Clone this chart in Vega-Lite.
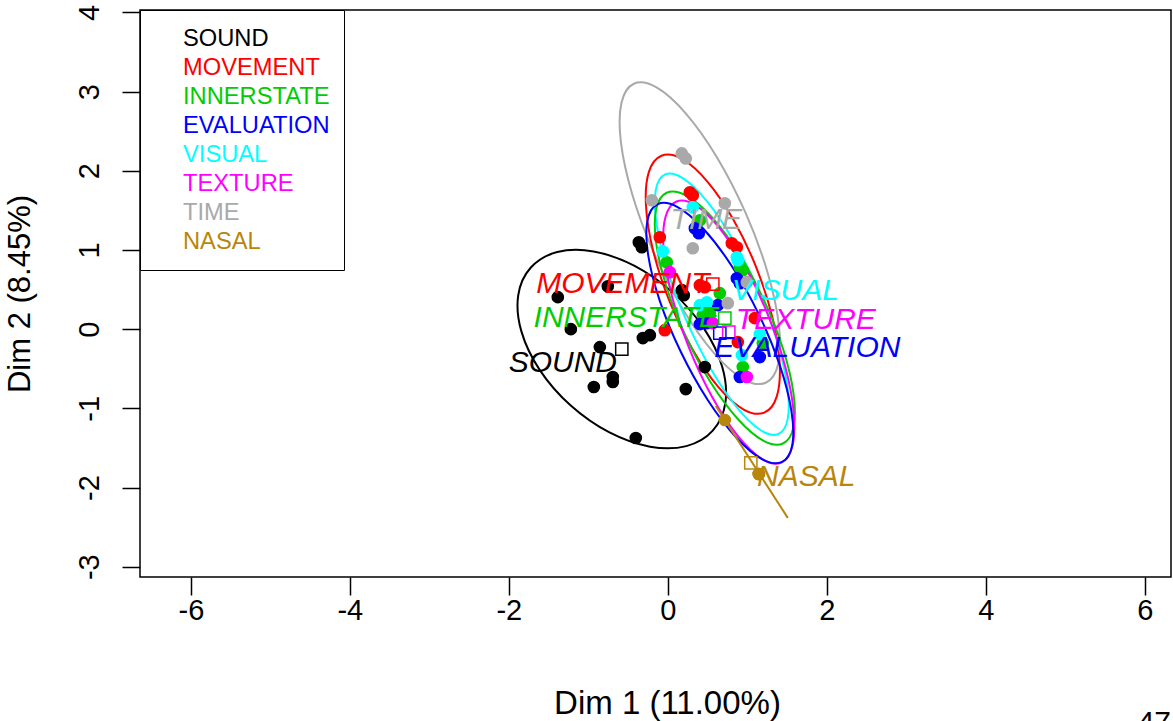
{
  "$schema": "https://vega.github.io/schema/vega-lite/v6.json",
  "autosize": "none",
  "width": 1031,
  "height": 567,
  "padding": {"left": 140, "top": 10, "right": 2, "bottom": 144},
  "background": "white",
  "title": {"text": "47", "orient": "bottom", "anchor": "end", "font": "Liberation Sans", "fontSize": 30, "fontWeight": "normal", "color": "black", "offset": -12},
  "config": {
    "view": {"stroke": "black", "strokeWidth": 1.5},
    "axis": {
      "domain": false, "grid": false,
      "tickColor": "black", "tickWidth": 1.5, "tickSize": 18,
      "labelFont": "Liberation Sans", "labelFontSize": 29, "labelColor": "black",
      "labelExpr": "'' + datum.value",
      "titleFont": "Liberation Sans", "titleFontSize": 31, "titleFontWeight": "normal", "titleColor": "black"
    },
    "legend": {
      "orient": "top-left", "offset": 0,
      "strokeColor": "black", "fillColor": "white", "padding": 14,
      "symbolType": "square", "symbolSize": 818, "symbolOpacity": 0, "symbolStrokeWidth": 0,
      "labelFont": "Liberation Sans", "labelFontSize": 23.7, "labelOffset": 0, "labelLimit": 400,
      "rowPadding": 0
    }
  },
  "datasets": {
    "individuals": [
      {"category": "SOUND", "dim1": -1.384, "dim2": 0.404},
      {"category": "SOUND", "dim1": -0.755, "dim2": 0.542},
      {"category": "SOUND", "dim1": -0.365, "dim2": 1.097},
      {"category": "SOUND", "dim1": -0.327, "dim2": 1.034},
      {"category": "SOUND", "dim1": 0.176, "dim2": 0.492},
      {"category": "SOUND", "dim1": 0.201, "dim2": 0.429},
      {"category": "SOUND", "dim1": -1.220, "dim2": 0.000},
      {"category": "SOUND", "dim1": -0.855, "dim2": -0.227},
      {"category": "SOUND", "dim1": -0.314, "dim2": -0.113},
      {"category": "SOUND", "dim1": -0.226, "dim2": -0.076},
      {"category": "SOUND", "dim1": -0.692, "dim2": -0.605},
      {"category": "SOUND", "dim1": -0.692, "dim2": -0.668},
      {"category": "SOUND", "dim1": -0.931, "dim2": -0.731},
      {"category": "SOUND", "dim1": 0.226, "dim2": -0.757},
      {"category": "SOUND", "dim1": -0.403, "dim2": -1.375},
      {"category": "SOUND", "dim1": 0.465, "dim2": -0.479},
      {"category": "MOVEMENT", "dim1": 0.277, "dim2": 1.728},
      {"category": "MOVEMENT", "dim1": 0.314, "dim2": 1.690},
      {"category": "MOVEMENT", "dim1": -0.101, "dim2": 1.160},
      {"category": "MOVEMENT", "dim1": 0.805, "dim2": 1.084},
      {"category": "MOVEMENT", "dim1": 0.868, "dim2": 1.034},
      {"category": "MOVEMENT", "dim1": 0.403, "dim2": 0.555},
      {"category": "MOVEMENT", "dim1": 0.465, "dim2": 0.530},
      {"category": "MOVEMENT", "dim1": -0.038, "dim2": -0.013},
      {"category": "MOVEMENT", "dim1": 1.094, "dim2": 0.139},
      {"category": "MOVEMENT", "dim1": 0.881, "dim2": -0.164},
      {"category": "INNERSTATE", "dim1": 0.403, "dim2": 1.375},
      {"category": "INNERSTATE", "dim1": -0.013, "dim2": 0.845},
      {"category": "INNERSTATE", "dim1": 0.906, "dim2": 0.782},
      {"category": "INNERSTATE", "dim1": 0.943, "dim2": 0.744},
      {"category": "INNERSTATE", "dim1": 0.654, "dim2": 0.454},
      {"category": "INNERSTATE", "dim1": 0.440, "dim2": 0.177},
      {"category": "INNERSTATE", "dim1": 0.528, "dim2": 0.202},
      {"category": "INNERSTATE", "dim1": 1.195, "dim2": -0.177},
      {"category": "INNERSTATE", "dim1": 0.943, "dim2": -0.479},
      {"category": "EVALUATION", "dim1": 0.340, "dim2": 1.274},
      {"category": "EVALUATION", "dim1": 0.390, "dim2": 1.211},
      {"category": "EVALUATION", "dim1": 0.868, "dim2": 0.643},
      {"category": "EVALUATION", "dim1": 0.906, "dim2": 0.580},
      {"category": "EVALUATION", "dim1": 0.629, "dim2": 0.303},
      {"category": "EVALUATION", "dim1": 0.403, "dim2": 0.063},
      {"category": "EVALUATION", "dim1": 0.491, "dim2": 0.076},
      {"category": "EVALUATION", "dim1": 1.157, "dim2": -0.353},
      {"category": "EVALUATION", "dim1": 0.906, "dim2": -0.605},
      {"category": "VISUAL", "dim1": 0.314, "dim2": 1.538},
      {"category": "VISUAL", "dim1": -0.063, "dim2": 0.984},
      {"category": "VISUAL", "dim1": 0.868, "dim2": 0.908},
      {"category": "VISUAL", "dim1": 0.881, "dim2": 0.870},
      {"category": "VISUAL", "dim1": 0.403, "dim2": 0.303},
      {"category": "VISUAL", "dim1": 0.491, "dim2": 0.340},
      {"category": "VISUAL", "dim1": 1.157, "dim2": -0.063},
      {"category": "VISUAL", "dim1": 0.931, "dim2": -0.328},
      {"category": "TEXTURE", "dim1": 0.025, "dim2": 0.719},
      {"category": "TEXTURE", "dim1": 0.566, "dim2": 0.076},
      {"category": "TEXTURE", "dim1": 0.994, "dim2": -0.605},
      {"category": "TIME", "dim1": 0.176, "dim2": 2.219},
      {"category": "TIME", "dim1": 0.226, "dim2": 2.156},
      {"category": "TIME", "dim1": -0.201, "dim2": 1.627},
      {"category": "TIME", "dim1": 0.717, "dim2": 1.589},
      {"category": "TIME", "dim1": 0.314, "dim2": 1.021},
      {"category": "TIME", "dim1": 0.755, "dim2": 0.328},
      {"category": "TIME", "dim1": 0.994, "dim2": 0.593},
      {"category": "NASAL", "dim1": 0.717, "dim2": -1.148},
      {"category": "NASAL", "dim1": 1.145, "dim2": -1.829},
      {"category": "NASAL", "dim1": 1.145, "dim2": -1.829},
      {"category": "NASAL", "dim1": 1.145, "dim2": -1.829}
    ],
    "centres": [
      {"category": "SOUND", "dim1": -0.579, "dim2": -0.252},
      {"category": "MOVEMENT", "dim1": 0.566, "dim2": 0.567},
      {"category": "INNERSTATE", "dim1": 0.717, "dim2": 0.139},
      {"category": "EVALUATION", "dim1": 0.654, "dim2": -0.050},
      {"category": "TEXTURE", "dim1": 0.767, "dim2": -0.038},
      {"category": "NASAL", "dim1": 1.044, "dim2": -1.690}
    ],
    "labels": [
      {"category": "SOUND", "dim1": -1.321, "dim2": -0.429},
      {"category": "MOVEMENT", "dim1": -0.566, "dim2": 0.567},
      {"category": "INNERSTATE", "dim1": -0.522, "dim2": 0.139},
      {"category": "EVALUATION", "dim1": 1.755, "dim2": -0.240},
      {"category": "VISUAL", "dim1": 1.480, "dim2": 0.479},
      {"category": "TEXTURE", "dim1": 1.736, "dim2": 0.113},
      {"category": "TIME", "dim1": 0.484, "dim2": 1.375},
      {"category": "NASAL", "dim1": 1.742, "dim2": -1.866}
    ],
    "ellipses": [
      {"category": "SOUND", "k": 0, "dim1": 0.565, "dim2": -1.282},
      {"category": "SOUND", "k": 1, "dim1": 0.724, "dim2": -0.931},
      {"category": "SOUND", "k": 2, "dim1": 0.684, "dim2": -0.476},
      {"category": "SOUND", "k": 3, "dim1": 0.452, "dim2": 0.013},
      {"category": "SOUND", "k": 4, "dim1": 0.063, "dim2": 0.461},
      {"category": "SOUND", "k": 5, "dim1": -0.424, "dim2": 0.801},
      {"category": "SOUND", "k": 6, "dim1": -0.934, "dim2": 0.981},
      {"category": "SOUND", "k": 7, "dim1": -1.391, "dim2": 0.973},
      {"category": "SOUND", "k": 8, "dim1": -1.723, "dim2": 0.778},
      {"category": "SOUND", "k": 9, "dim1": -1.882, "dim2": 0.427},
      {"category": "SOUND", "k": 10, "dim1": -1.842, "dim2": -0.028},
      {"category": "SOUND", "k": 11, "dim1": -1.610, "dim2": -0.517},
      {"category": "SOUND", "k": 12, "dim1": -1.221, "dim2": -0.965},
      {"category": "SOUND", "k": 13, "dim1": -0.734, "dim2": -1.305},
      {"category": "SOUND", "k": 14, "dim1": -0.224, "dim2": -1.485},
      {"category": "SOUND", "k": 15, "dim1": 0.233, "dim2": -1.477},
      {"category": "TIME", "k": 0, "dim1": 1.232, "dim2": -0.677},
      {"category": "TIME", "k": 1, "dim1": 1.389, "dim2": -0.437},
      {"category": "TIME", "k": 2, "dim1": 1.397, "dim2": 0.055},
      {"category": "TIME", "k": 3, "dim1": 1.253, "dim2": 0.722},
      {"category": "TIME", "k": 4, "dim1": 0.980, "dim2": 1.464},
      {"category": "TIME", "k": 5, "dim1": 0.619, "dim2": 2.168},
      {"category": "TIME", "k": 6, "dim1": 0.225, "dim2": 2.725},
      {"category": "TIME", "k": 7, "dim1": -0.142, "dim2": 3.052},
      {"category": "TIME", "k": 8, "dim1": -0.426, "dim2": 3.099},
      {"category": "TIME", "k": 9, "dim1": -0.583, "dim2": 2.859},
      {"category": "TIME", "k": 10, "dim1": -0.591, "dim2": 2.367},
      {"category": "TIME", "k": 11, "dim1": -0.447, "dim2": 1.700},
      {"category": "TIME", "k": 12, "dim1": -0.174, "dim2": 0.958},
      {"category": "TIME", "k": 13, "dim1": 0.187, "dim2": 0.255},
      {"category": "TIME", "k": 14, "dim1": 0.581, "dim2": -0.303},
      {"category": "TIME", "k": 15, "dim1": 0.948, "dim2": -0.630},
      {"category": "MOVEMENT", "k": 0, "dim1": 1.212, "dim2": -1.055},
      {"category": "MOVEMENT", "k": 1, "dim1": 1.371, "dim2": -0.849},
      {"category": "MOVEMENT", "k": 2, "dim1": 1.407, "dim2": -0.427},
      {"category": "MOVEMENT", "k": 3, "dim1": 1.316, "dim2": 0.146},
      {"category": "MOVEMENT", "k": 4, "dim1": 1.111, "dim2": 0.784},
      {"category": "MOVEMENT", "k": 5, "dim1": 0.822, "dim2": 1.388},
      {"category": "MOVEMENT", "k": 6, "dim1": 0.495, "dim2": 1.867},
      {"category": "MOVEMENT", "k": 7, "dim1": 0.178, "dim2": 2.149},
      {"category": "MOVEMENT", "k": 8, "dim1": -0.080, "dim2": 2.189},
      {"category": "MOVEMENT", "k": 9, "dim1": -0.239, "dim2": 1.983},
      {"category": "MOVEMENT", "k": 10, "dim1": -0.275, "dim2": 1.561},
      {"category": "MOVEMENT", "k": 11, "dim1": -0.184, "dim2": 0.988},
      {"category": "MOVEMENT", "k": 12, "dim1": 0.022, "dim2": 0.350},
      {"category": "MOVEMENT", "k": 13, "dim1": 0.310, "dim2": -0.254},
      {"category": "MOVEMENT", "k": 14, "dim1": 0.637, "dim2": -0.733},
      {"category": "MOVEMENT", "k": 15, "dim1": 0.954, "dim2": -1.015},
      {"category": "VISUAL", "k": 0, "dim1": 1.392, "dim2": -1.324},
      {"category": "VISUAL", "k": 1, "dim1": 1.510, "dim2": -1.124},
      {"category": "VISUAL", "k": 2, "dim1": 1.501, "dim2": -0.705},
      {"category": "VISUAL", "k": 3, "dim1": 1.368, "dim2": -0.131},
      {"category": "VISUAL", "k": 4, "dim1": 1.129, "dim2": 0.511},
      {"category": "VISUAL", "k": 5, "dim1": 0.822, "dim2": 1.123},
      {"category": "VISUAL", "k": 6, "dim1": 0.494, "dim2": 1.612},
      {"category": "VISUAL", "k": 7, "dim1": 0.193, "dim2": 1.904},
      {"category": "VISUAL", "k": 8, "dim1": -0.034, "dim2": 1.954},
      {"category": "VISUAL", "k": 9, "dim1": -0.152, "dim2": 1.754},
      {"category": "VISUAL", "k": 10, "dim1": -0.143, "dim2": 1.335},
      {"category": "VISUAL", "k": 11, "dim1": -0.010, "dim2": 0.761},
      {"category": "VISUAL", "k": 12, "dim1": 0.229, "dim2": 0.119},
      {"category": "VISUAL", "k": 13, "dim1": 0.536, "dim2": -0.493},
      {"category": "VISUAL", "k": 14, "dim1": 0.864, "dim2": -0.982},
      {"category": "VISUAL", "k": 15, "dim1": 1.165, "dim2": -1.274},
      {"category": "INNERSTATE", "k": 0, "dim1": 1.449, "dim2": -1.444},
      {"category": "INNERSTATE", "k": 1, "dim1": 1.581, "dim2": -1.237},
      {"category": "INNERSTATE", "k": 2, "dim1": 1.582, "dim2": -0.820},
      {"category": "INNERSTATE", "k": 3, "dim1": 1.452, "dim2": -0.257},
      {"category": "INNERSTATE", "k": 4, "dim1": 1.209, "dim2": 0.366},
      {"category": "INNERSTATE", "k": 5, "dim1": 0.892, "dim2": 0.955},
      {"category": "INNERSTATE", "k": 6, "dim1": 0.548, "dim2": 1.419},
      {"category": "INNERSTATE", "k": 7, "dim1": 0.229, "dim2": 1.689},
      {"category": "INNERSTATE", "k": 8, "dim1": -0.015, "dim2": 1.722},
      {"category": "INNERSTATE", "k": 9, "dim1": -0.147, "dim2": 1.515},
      {"category": "INNERSTATE", "k": 10, "dim1": -0.148, "dim2": 1.098},
      {"category": "INNERSTATE", "k": 11, "dim1": -0.018, "dim2": 0.535},
      {"category": "INNERSTATE", "k": 12, "dim1": 0.225, "dim2": -0.088},
      {"category": "INNERSTATE", "k": 13, "dim1": 0.542, "dim2": -0.677},
      {"category": "INNERSTATE", "k": 14, "dim1": 0.886, "dim2": -1.141},
      {"category": "INNERSTATE", "k": 15, "dim1": 1.205, "dim2": -1.411},
      {"category": "TEXTURE", "k": 0, "dim1": 1.424, "dim2": -1.688},
      {"category": "TEXTURE", "k": 1, "dim1": 1.565, "dim2": -1.486},
      {"category": "TEXTURE", "k": 2, "dim1": 1.585, "dim2": -1.064},
      {"category": "TEXTURE", "k": 3, "dim1": 1.480, "dim2": -0.486},
      {"category": "TEXTURE", "k": 4, "dim1": 1.267, "dim2": 0.161},
      {"category": "TEXTURE", "k": 5, "dim1": 0.978, "dim2": 0.777},
      {"category": "TEXTURE", "k": 6, "dim1": 0.656, "dim2": 1.269},
      {"category": "TEXTURE", "k": 7, "dim1": 0.352, "dim2": 1.563},
      {"category": "TEXTURE", "k": 8, "dim1": 0.110, "dim2": 1.612},
      {"category": "TEXTURE", "k": 9, "dim1": -0.031, "dim2": 1.410},
      {"category": "TEXTURE", "k": 10, "dim1": -0.051, "dim2": 0.988},
      {"category": "TEXTURE", "k": 11, "dim1": 0.054, "dim2": 0.410},
      {"category": "TEXTURE", "k": 12, "dim1": 0.267, "dim2": -0.237},
      {"category": "TEXTURE", "k": 13, "dim1": 0.556, "dim2": -0.853},
      {"category": "TEXTURE", "k": 14, "dim1": 0.878, "dim2": -1.345},
      {"category": "TEXTURE", "k": 15, "dim1": 1.182, "dim2": -1.638},
      {"category": "EVALUATION", "k": 0, "dim1": 1.437, "dim2": -1.677},
      {"category": "EVALUATION", "k": 1, "dim1": 1.566, "dim2": -1.463},
      {"category": "EVALUATION", "k": 2, "dim1": 1.555, "dim2": -1.034},
      {"category": "EVALUATION", "k": 3, "dim1": 1.408, "dim2": -0.454},
      {"category": "EVALUATION", "k": 4, "dim1": 1.145, "dim2": 0.186},
      {"category": "EVALUATION", "k": 5, "dim1": 0.808, "dim2": 0.791},
      {"category": "EVALUATION", "k": 6, "dim1": 0.447, "dim2": 1.268},
      {"category": "EVALUATION", "k": 7, "dim1": 0.118, "dim2": 1.544},
      {"category": "EVALUATION", "k": 8, "dim1": -0.129, "dim2": 1.577},
      {"category": "EVALUATION", "k": 9, "dim1": -0.258, "dim2": 1.363},
      {"category": "EVALUATION", "k": 10, "dim1": -0.247, "dim2": 0.934},
      {"category": "EVALUATION", "k": 11, "dim1": -0.100, "dim2": 0.354},
      {"category": "EVALUATION", "k": 12, "dim1": 0.163, "dim2": -0.286},
      {"category": "EVALUATION", "k": 13, "dim1": 0.500, "dim2": -0.891},
      {"category": "EVALUATION", "k": 14, "dim1": 0.861, "dim2": -1.368},
      {"category": "EVALUATION", "k": 15, "dim1": 1.190, "dim2": -1.644},
      {"category": "NASAL", "k": 0, "dim1": 0.604, "dim2": -0.971},
      {"category": "NASAL", "k": 1, "dim1": 1.509, "dim2": -2.383}
    ]
  },
  "encoding": {
    "x": {"field": "dim1", "type": "quantitative", "title": "Dim 1 (11.00%)",
          "scale": {"domain": [-6.64, 6.33], "nice": false, "zero": false},
          "axis": {"values": [-6, -4, -2, 0, 2, 4, 6], "labelPadding": 1, "titlePadding": 62, "titleFontSize": 33, "titleX": 527}},
    "y": {"field": "dim2", "type": "quantitative", "title": "Dim 2 (8.45%)",
          "scale": {"domain": [-3.13, 4.03], "nice": false, "zero": false},
          "axis": {"values": [-3, -2, -1, 0, 1, 2, 3, 4], "labelAngle": 270, "labelAlign": "center", "labelBaseline": "alphabetic", "labelPadding": 24, "titlePadding": 39}},
    "color": {"field": "category", "type": "nominal",
              "scale": {"domain": ["SOUND", "MOVEMENT", "INNERSTATE", "EVALUATION", "VISUAL", "TEXTURE", "TIME", "NASAL"],
                        "range": ["#000000", "#FF0000", "#00CD00", "#0000FF", "#00FFFF", "#FF00FF", "#A9A9A9", "#B8860B"]},
              "legend": {"title": null,
                         "encode": {"labels": {"update": {"fill": {"scale": "color", "field": "value"}}}}}}
  },
  "layer": [
    {"data": {"values": [{"origin": 0}]}, "mark": {"type": "rule", "color": "black", "strokeWidth": 1.5, "strokeDash": [10, 7]},
     "encoding": {"x": {"field": "origin", "type": "quantitative"}, "color": {"value": "black"}}},
    {"data": {"values": [{"origin": 0}]}, "mark": {"type": "rule", "color": "black", "strokeWidth": 1.5, "strokeDash": [10, 7]},
     "encoding": {"y": {"field": "origin", "type": "quantitative"}, "color": {"value": "black"}}},
    {"data": {"name": "ellipses"}, "transform": [{"filter": "datum.category !== 'NASAL'"}],
     "mark": {"type": "line", "interpolate": "cardinal-closed", "strokeWidth": 2},
     "encoding": {"order": {"field": "k", "type": "quantitative"}, "detail": {"field": "category"}}},
    {"data": {"name": "ellipses"}, "transform": [{"filter": "datum.category === 'NASAL'"}],
     "mark": {"type": "line", "strokeWidth": 2},
     "encoding": {"order": {"field": "k", "type": "quantitative"}}},
    {"data": {"name": "individuals"},
     "mark": {"type": "circle", "size": 160, "opacity": 1}},
    {"data": {"name": "centres"},
     "mark": {"type": "square", "filled": false, "size": 150, "strokeWidth": 1.5, "opacity": 1}},
    {"data": {"name": "labels"},
     "mark": {"type": "text", "font": "Liberation Sans", "fontStyle": "italic", "fontSize": 30, "align": "center", "baseline": "middle"},
     "encoding": {"text": {"field": "category"}}}
  ]
}
